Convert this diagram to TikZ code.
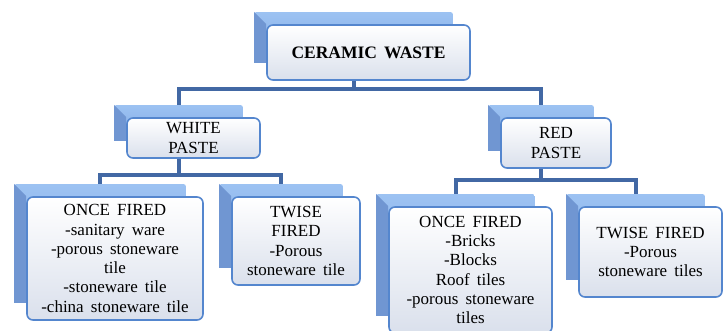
\documentclass[tikz,border=0pt]{standalone}
\usepackage{fontspec}
\setmainfont{Liberation Serif}
\usetikzlibrary{backgrounds,fit}
\definecolor{connblue}{RGB}{66,104,164}
\definecolor{boxline}{RGB}{84,134,206}
\definecolor{boxshade}{RGB}{218,224,236}
\definecolor{backtop}{RGB}{156,194,242}
\definecolor{backbot}{RGB}{130,170,228}
\definecolor{backside}{RGB}{112,150,210}
\newcommand{\boxfont}{\fontsize{17}{19.3}\selectfont\spaceskip=0.42em plus 0.1em\relax}
\tikzset{
  frontbox/.style={draw=boxline, line width=1.6pt, rounded corners=6pt, top color=white, bottom color=boxshade,
    align=center, inner sep=2pt, font=\boxfont},
  backbox/.style={top color=backtop, bottom color=backbot, inner sep=0pt, rounded corners=2pt},
  conn/.style={draw=connblue, line width=4pt},
}
\begin{document}
\begin{tikzpicture}[x=1pt,y=1pt]
    \useasboundingbox (0,0) rectangle (728,331);
    % boxes
    \node[frontbox, minimum width=203pt, minimum height=55pt] (cw) at (368.5,278.5) {\fontsize{17.5}{19.3}\selectfont\textbf{CERAMIC WASTE}};
    \node[frontbox, minimum width=133pt, minimum height=40pt] (wp) at (193.5,193) {WHITE\\PASTE};
    \node[frontbox, minimum width=110pt, minimum height=50pt] (rp) at (556,188) {RED\\PASTE};
    \node[frontbox, minimum width=176pt, minimum height=123pt] (ow) at (115,72.5) {ONCE FIRED\\-sanitary ware\\-porous stoneware\\tile\\-stoneware tile\\-china stoneware tile};
    \node[frontbox, minimum width=128pt, minimum height=88pt] (tw) at (296,90) {TWISE\\FIRED\\-Porous\\stoneware tile};
    \node[frontbox, minimum width=163pt, minimum height=126pt] (or) at (470.5,61) {ONCE FIRED\\-Bricks\\-Blocks\\Roof tiles\\-porous stoneware\\tiles};
    \node[frontbox, minimum width=143pt, minimum height=90pt] (tr) at (650.5,79) {TWISE FIRED\\-Porous\\stoneware tiles};
    \begin{scope}[on background layer]
        % line
        \coordinate (bus1) at (0,242);
        \coordinate (bus2) at (0,156);
        \coordinate (bus3) at (0,151);
        % back
        \foreach \f in {cw,wp,rp,ow,tw,or,tr}{
            \node[backbox, fit={([shift={(-12,12)}]\f.north west) ([shift={(-18,18)}]\f.south east)}] (\f b) {};
            \fill[backside] (\f b.north west) -- (\f.north west) -- (\f.north west |- \f b.south) -- (\f b.south west) -- cycle;
        }
        \draw[conn] (cw.south -| cwb.north) -- (cwb.north |- bus1);
        \draw[conn] (wpb.north) -- (wpb.north |- bus1) -- (rpb.north |- bus1) -- (rpb.north);
        \draw[conn] (wp.south -| wpb.north) -- (wpb.north |- bus2);
        \draw[conn] (owb.north) -- (owb.north |- bus2) -- (twb.north |- bus2) -- (twb.north);
        \draw[conn] (rp.south -| rpb.north) -- (rpb.north |- bus3);
        \draw[conn] (orb.north) -- (orb.north |- bus3) -- (trb.north |- bus3) -- (trb.north);
    \end{scope}
\end{tikzpicture}
\end{document}
